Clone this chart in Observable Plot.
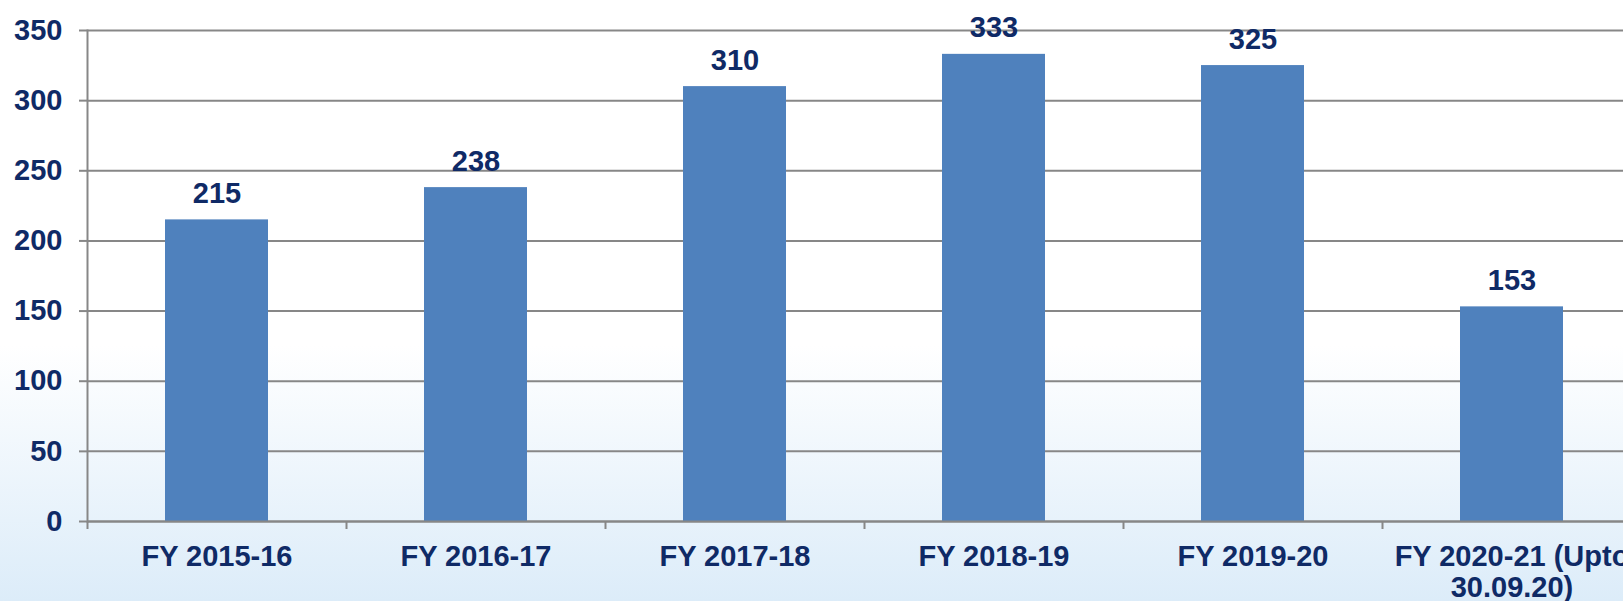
<!DOCTYPE html>
<html>
<head>
<meta charset="utf-8">
<script src="https://cdn.jsdelivr.net/npm/d3@7"></script>
<script src="https://cdn.jsdelivr.net/npm/@observablehq/plot@0.6"></script>
<style>
  html, body { margin: 0; padding: 0; overflow: hidden; }
  body {
    width: 1623px; height: 601px;
    background: linear-gradient(to bottom, #ffffff 0px, #ffffff 345px, #dcecf9 601px);
    font-family: "Liberation Sans", Arial, sans-serif;
  }
</style>
</head>
<body>
<div id="chart"></div>
<script>
const categories = ["FY 2015-16", "FY 2016-17", "FY 2017-18", "FY 2018-19", "FY 2019-20", "FY 2020-21 (Upto 30.09.20)"];
const xTickLabels = ["FY 2015-16", "FY 2016-17", "FY 2017-18", "FY 2018-19", "FY 2019-20", "FY 2020-21 (Upto\n30.09.20)"];
const values = [215, 238, 310, 333, 325, 153];
const yTicks = [0, 50, 100, 150, 200, 250, 300, 350];

const data = categories.map((c, i) => ({cat: c, value: values[i]}));

const W = 1623, H = 601;
const mL = 87, mR = -18, mT = 30, mB = 80;
const step = (W - mL - mR) / categories.length;
const navy = "#0f2a66";
const gray = "#878787";
const barW = 103;
const inset = (step - barW) / 2;
const fs = 29;

const chart = Plot.plot({
  width: W,
  height: H,
  marginLeft: mL,
  marginRight: mR,
  marginTop: mT,
  marginBottom: mB,
  style: {background: "transparent", fontFamily: "'Liberation Sans', Arial, sans-serif", overflow: "hidden"},
  x: {type: "band", domain: categories, padding: 0, label: null},
  y: {domain: [0, 350], label: null},
  marks: [
    Plot.gridY(yTicks, {stroke: gray, strokeOpacity: 1, strokeWidth: 2}),
    Plot.barY(data, {x: "cat", y: "value", fill: "#4f81bd", insetLeft: inset, insetRight: inset}),
    Plot.text(data, {x: "cat", y: "value", text: d => String(d.value), dy: -17, lineAnchor: "bottom",
      fontSize: fs, fontWeight: "bold", fill: navy}),
    Plot.ruleY([0], {stroke: gray, strokeWidth: 2}),
    Plot.frame({anchor: "left", stroke: gray, strokeWidth: 2}),
    Plot.axisY({ticks: yTicks, tickSize: 8, tickPadding: 17, stroke: gray, strokeWidth: 2,
      fontSize: fs, fontWeight: "bold", fill: navy, label: null}),
    Plot.axisX({tickSize: 8, tickFormat: () => "", dx: -step / 2, stroke: gray, strokeWidth: 2, label: null}),
    Plot.axisX({tickSize: 0, tickPadding: 22, tickFormat: (d) => xTickLabels[categories.indexOf(d)],
      fontSize: fs, fontWeight: "bold", fill: navy, lineHeight: 1.07, label: null})
  ]
});
document.getElementById("chart").appendChild(chart);
</script>
</body>
</html>
